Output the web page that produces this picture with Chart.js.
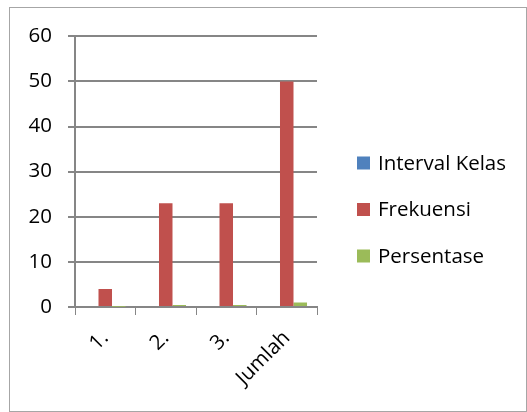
<!DOCTYPE html>
<html>
<head>
<meta charset="utf-8">
<script src="https://cdn.jsdelivr.net/npm/chart.js@4.4.1/dist/chart.umd.min.js"></script>
<style>
    body { margin: 0; background: #fff; }
    #box {
        position: absolute; left: 9px; top: 7px;
        width: 516px; height: 403px;
        border: 1px solid #a6a6a6; background: #fff;
    }
</style>
</head>
<body>
<div id="box"><canvas id="chart" width="516" height="403"></canvas></div>
<script>
// Kategorien und Werte
const categories = ['1.', '2.', '3.', 'Jumlah'];
const intervalKelas = [0, 0, 0, 0];
const frekuensi = [4, 23, 23, 50];
const persentase = [0.08, 0.46, 0.46, 1];
const yTicks = [0, 10, 20, 30, 40, 50, 60];

const font = { family: '"Open Sans", sans-serif', size: 20.5 };
const axisGrey = '#868686';

// Legende rechts, selbst gezeichnet (Eintraege aus den Datensaetzen)
const sideLegend = {
    id: 'sideLegend',
    afterDraw(chart) {
        const c = chart.ctx;
        c.save();
        c.font = `${font.size}px ${font.family}`;
        c.textBaseline = 'middle';
        chart.data.datasets.forEach((ds, i) => {
            const y = 155 + i * 46.5;
            c.fillStyle = ds.backgroundColor;
            c.fillRect(347, y - 6.5, 13, 13);
            c.fillStyle = '#000';
            c.fillText(ds.label, 368, y + 1);
        });
        c.restore();
    }
};

document.addEventListener('DOMContentLoaded', () => {
    const ctx = document.getElementById('chart').getContext('2d');
    new Chart(ctx, {
        type: 'bar',
        data: {
            labels: categories,
            datasets: [
                { label: 'Interval Kelas', data: intervalKelas, backgroundColor: '#4F81BD' },
                { label: 'Frekuensi', data: frekuensi, backgroundColor: '#C0504D' },
                { label: 'Persentase', data: persentase, backgroundColor: '#9BBB59' }
            ]
        },
        plugins: [sideLegend],
        options: {
            responsive: false,
            animation: false,
            datasets: { bar: { categoryPercentage: 0.67, barPercentage: 1 } },
            layout: { padding: { left: 0, top: 28, right: 209, bottom: 0 } },
            plugins: {
                tooltip: { enabled: false },
                legend: { display: false }
            },
            scales: {
                x: {
                    afterFit: axis => { axis.height = 104; },
                    grid: { display: true, drawOnChartArea: false, color: axisGrey, tickLength: 8, offset: true },
                    border: { color: axisGrey, width: 2 },
                    ticks: { font: font, color: '#000', minRotation: 45, maxRotation: 45, padding: 11 }
                },
                y: {
                    min: 0, max: 60,
                    afterFit: axis => { axis.width = 65; },
                    afterBuildTicks: axis => { axis.ticks = yTicks.map(v => ({ value: v })); },
                    grid: { color: axisGrey, lineWidth: 2, tickLength: 7 },
                    border: { color: axisGrey, width: 2 },
                    ticks: { font: font, color: '#000', padding: 16 }
                }
            }
        }
    });
});
</script>
</body>
</html>
